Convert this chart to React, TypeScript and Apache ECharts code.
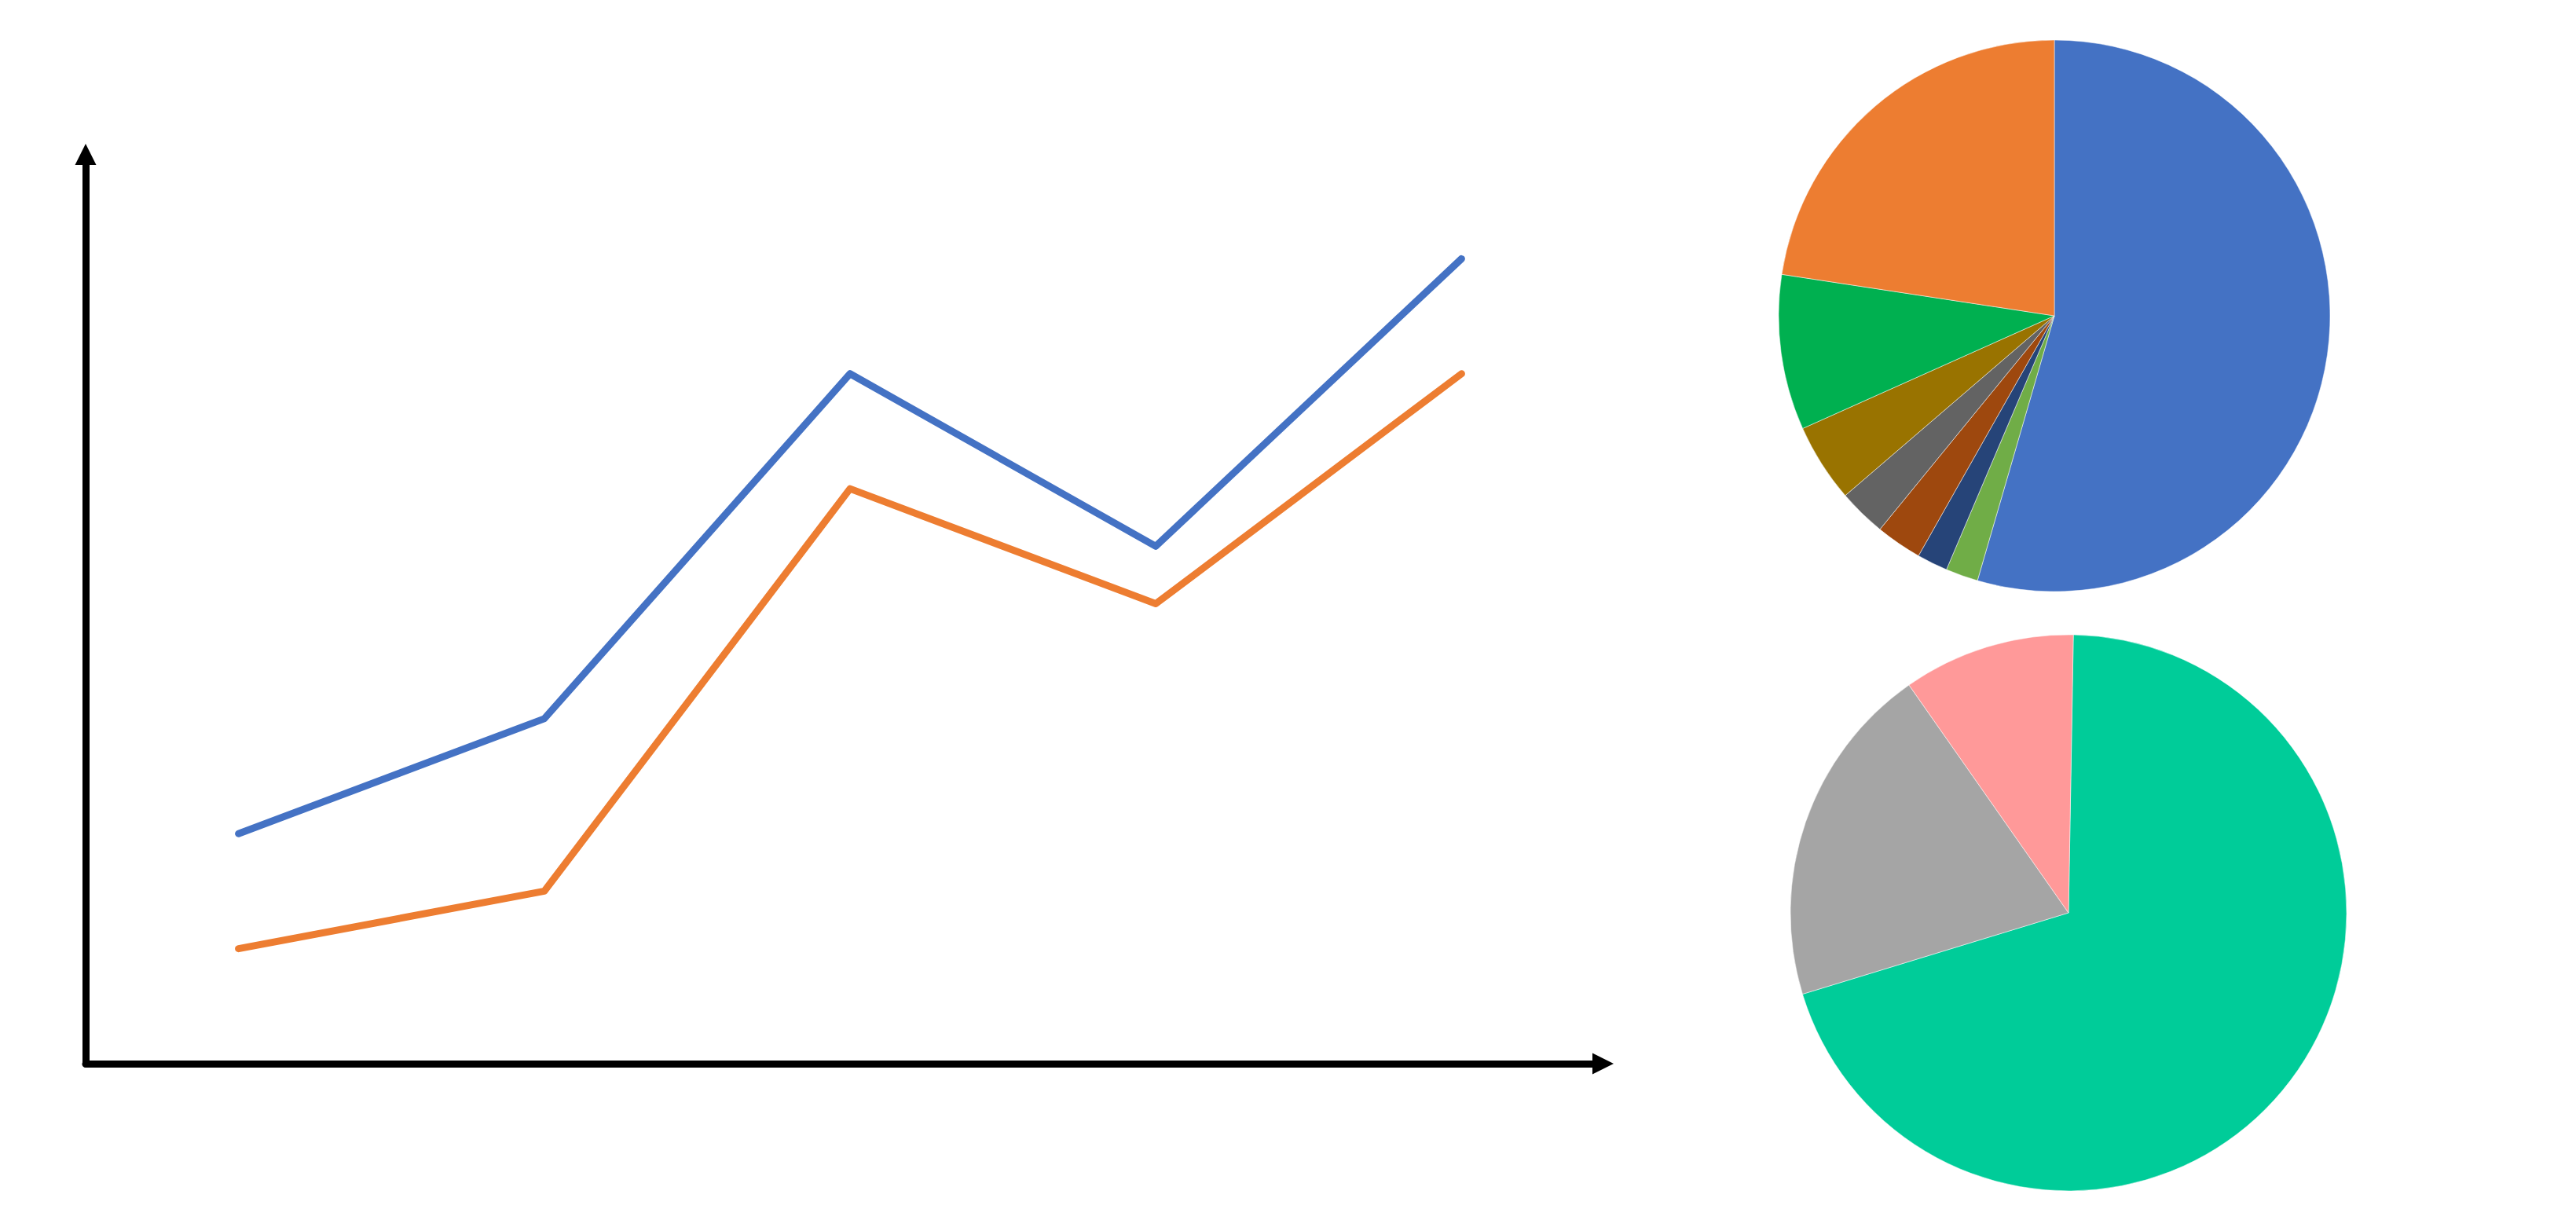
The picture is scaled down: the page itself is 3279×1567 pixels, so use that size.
import { useEffect, useRef } from 'react';
import * as echarts from 'echarts';

// line chart: five unlabeled steps
const steps = ['1', '2', '3', '4', '5'];
const blueValues = [2, 3, 6, 4.5, 7];
const orangeValues = [1, 1.5, 5, 4, 6];

// top pie, clockwise from 12 o'clock
const topPieNames = ['A', 'B', 'C', 'D', 'E', 'F', 'G', 'H'];
const topPieValues = [54.5, 1.9, 1.8, 2.7, 2.8, 4.6, 9.1, 22.6];
const topPieColors = ['#4472C4', '#70AD47', '#264478', '#9E480E', '#636363', '#997300', '#00B050', '#ED7D31'];

// bottom pie
const bottomPieNames = ['A', 'B', 'C'];
const bottomPieValues = [70, 20, 10];
const bottomPieColors = ['#00CC99', '#A5A5A5', '#FF9999'];

const hidden = {
  axisLine: { show: false },
  axisTick: { show: false },
  axisLabel: { show: false },
  splitLine: { show: false },
};

const arrowLine = {
  show: true,
  onZero: false,
  symbol: ['none', 'triangle'],
  symbolSize: [27, 27],
  symbolOffset: [0, 13.5],
  lineStyle: { color: '#000', width: 9 },
};

export default function App() {
  const chartRef = useRef<HTMLDivElement>(null);

  useEffect(() => {
    if (!chartRef.current) return;
    const chart = echarts.init(chartRef.current, null, { renderer: 'svg' });

    chart.setOption({
      animation: false,
      backgroundColor: '#fff',
      grid: [
        // data area
        { left: 109, top: 183, width: 1946, height: 1171 },
        // arrow axes
        { left: 109, top: 210, width: 1918, height: 1144 },
      ],
      xAxis: [
        { type: 'category', gridIndex: 0, data: steps, boundaryGap: true, ...hidden },
        {
          type: 'value', gridIndex: 1, min: 0, max: 1,
          axisLine: arrowLine, axisTick: { show: false }, axisLabel: { show: false }, splitLine: { show: false },
        },
      ],
      yAxis: [
        { type: 'value', gridIndex: 0, min: 0, max: 8, ...hidden },
        {
          type: 'value', gridIndex: 1, min: 0, max: 1,
          axisLine: arrowLine, axisTick: { show: false }, axisLabel: { show: false }, splitLine: { show: false },
        },
      ],
      series: [
        {
          type: 'line',
          xAxisIndex: 0,
          yAxisIndex: 0,
          data: blueValues,
          symbol: 'none',
          lineStyle: { color: '#4472C4', width: 9, cap: 'round', join: 'round' },
        },
        {
          type: 'line',
          xAxisIndex: 0,
          yAxisIndex: 0,
          data: orangeValues,
          symbol: 'none',
          lineStyle: { color: '#ED7D31', width: 9, cap: 'round', join: 'round' },
        },
        {
          type: 'pie',
          center: [2615, 402],
          radius: 351,
          startAngle: 90,
          label: { show: false },
          labelLine: { show: false },
          itemStyle: { borderColor: '#fff', borderWidth: 0.5 },
          data: topPieValues.map((v, i) => ({
            name: topPieNames[i],
            value: v,
            itemStyle: { color: topPieColors[i] },
          })),
        },
        {
          type: 'pie',
          center: [2633, 1162],
          radius: 354,
          startAngle: 89,
          label: { show: false },
          labelLine: { show: false },
          itemStyle: { borderColor: '#fff', borderWidth: 0.5 },
          data: bottomPieValues.map((v, i) => ({
            name: bottomPieNames[i],
            value: v,
            itemStyle: { color: bottomPieColors[i] },
          })),
        },
      ],
    });

    return () => {
      chart.dispose();
    };
  }, []);

  return (
    <div
      ref={chartRef}
      style={{ position: 'fixed', left: 0, top: 0, width: '3279px', height: '1567px' }}
    />
  );
}
